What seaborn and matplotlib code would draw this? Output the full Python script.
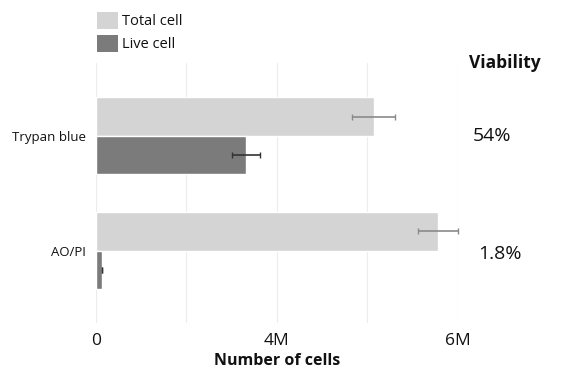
import pandas as pd
import seaborn as sns
import matplotlib.pyplot as plt
from matplotlib.patches import Patch

# --- data (millions of cells) ---
methods = ["Trypan blue", "AO/PI"]
total_cells = [4.6, 5.67]
total_err = [0.35, 0.33]
live_cells = [2.49, 0.105]
live_err = [0.23, 0.0]
viability = ["54%", "1.8%"]
series = ["Total cell", "Live cell"]
colors = ["#d4d4d4", "#7b7b7b"]
err_colors = ["#8a8a8a", "#333333"]
xticks = [0, 1.5, 3, 4.5, 6]
xticklabels = ["0", "", "4M", "", "6M"]

df = pd.DataFrame({
    "method": methods * 2,
    "kind": [series[0]] * 2 + [series[1]] * 2,
    "cells": total_cells + live_cells,
})

sns.set_style("white")
plt.rcParams["font.family"] = ["Open Sans", "DejaVu Sans"]
plt.rcParams["text.color"] = "#111111"
plt.rcParams["xtick.color"] = "#111111"
plt.rcParams["ytick.color"] = "#111111"
plt.rcParams["axes.labelcolor"] = "#111111"

fig = plt.figure(figsize=(5.69, 3.75), dpi=100)
ax = fig.add_axes([0.1687, 0.1387, 0.6362, 0.6933])

sns.barplot(data=df, y="method", x="cells", hue="kind", order=methods,
            hue_order=series, palette=colors, width=0.67, orient="h",
            errorbar=None, legend=False, ax=ax, saturation=1)

# error bars placed on the seaborn bars
for cont, errs, ec in zip(ax.containers, [total_err, live_err], err_colors):
    ys = [b.get_y() + b.get_height() / 2 for b in cont]
    xs = [b.get_width() for b in cont]
    ax.errorbar(xs, ys, xerr=errs, fmt="none", ecolor=ec, elinewidth=1.2,
                capsize=2.5, capthick=1, clip_on=False, zorder=5)

ax.set_xlim(0, 6)
ax.set_ylim(1.63, -0.635)
ax.set_xticks(xticks)
ax.set_xticklabels(xticklabels, fontsize=12.5)
ax.grid(axis="x", color="#ececec", linewidth=0.8)
ax.set_axisbelow(True)
for s in ax.spines.values():
    s.set_visible(False)
ax.tick_params(axis="both", length=0, pad=7)
ax.tick_params(axis="y", labelsize=9.5, pad=7)
ax.set_ylabel("")
ax.set_xlabel("Number of cells", fontsize=11.5, fontweight="bold", labelpad=3)

# viability column
ax.text(1.13, 1.0, "Viability", transform=ax.transAxes, ha="center",
        va="center", fontsize=12.5, fontweight="bold")
for i, v in enumerate(viability):
    ax.text(1.095 + 0.02 * i, i + 0.03 * i, v,
            transform=ax.get_yaxis_transform(),
            ha="center", va="center", fontsize=14)

handles = [Patch(facecolor=c, edgecolor="none") for c in colors]
fig.legend(handles, series, loc="upper left", bbox_to_anchor=(0.17, 0.968),
           frameon=False, fontsize=10.5, handlelength=1.45, handleheight=1.45,
           handletextpad=0.25, labelspacing=0.35, borderaxespad=0,
           borderpad=0)

fig.savefig("out.png", dpi=100)
